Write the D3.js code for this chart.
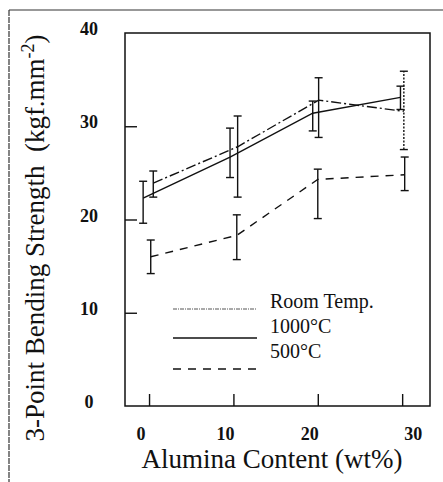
<!DOCTYPE html>
<html><head><meta charset="utf-8">
<script src="https://cdn.jsdelivr.net/npm/d3@7"></script>
<style>
html,body{margin:0;padding:0;background:#fff;}
svg{display:block;}
text{font-family:"Liberation Serif","Times New Roman",serif;fill:#111;}
</style></head>
<body>
<svg id="chart" width="443" height="482"></svg>
<script>
// ---- data ----
const xTicks = [0, 10, 20, 30];
const yTicks = [0, 10, 20, 30, 40];
const seriesNames = ["Room Temp.", "1000°C", "500°C"];

const roomX    = [0.5, 10.5, 20.1, 30.2];
const roomY    = [23.9, 27.8, 32.8, 31.6];
const roomLow  = [22.4, 22.4, 28.8, 27.5];
const roomHigh = [25.2, 31.1, 35.2, 35.9];

const t1000X    = [-0.7, 9.6, 19.4, 29.8];
const t1000Y    = [22.3, 26.7, 31.4, 33.1];
const t1000Low  = [19.6, 24.5, 29.5, 31.8];
const t1000High = [24.1, 29.8, 32.7, 34.3];

const t500X    = [0.2, 10.4, 20.0, 30.3];
const t500Y    = [16.0, 18.3, 24.3, 24.8];
const t500Low  = [14.2, 15.7, 20.1, 23.1];
const t500High = [17.8, 20.5, 25.4, 26.7];

// ---- drawing ----
const svg = d3.select("#chart");
const L = 125, R = 430, T = 33, B = 406;
const x = d3.scaleLinear().domain([-2.85, 33.3]).range([L, R]);
const y = d3.scaleLinear().domain([0, 40]).range([B, T]);

const dashes = ["10,3,2,3", null, "8,7"];
const series = [
  {name: seriesNames[0], xs: roomX, ys: roomY, lo: roomLow, hi: roomHigh, dash: dashes[0]},
  {name: seriesNames[1], xs: t1000X, ys: t1000Y, lo: t1000Low, hi: t1000High, dash: dashes[1]},
  {name: seriesNames[2], xs: t500X, ys: t500Y, lo: t500Low, hi: t500High, dash: dashes[2]}
];

// outer frame (top & left edges only visible)
svg.append("line").attr("x1", 9).attr("y1", 10).attr("x2", 443).attr("y2", 10)
  .attr("stroke", "#333").attr("stroke-width", 1.2);
svg.append("line").attr("x1", 9).attr("y1", 10).attr("x2", 9).attr("y2", 482)
  .attr("stroke", "#333").attr("stroke-width", 1.2).attr("stroke-dasharray", "6,1");

// axes (inward ticks)
const gx = svg.append("g").attr("transform", `translate(0,${B})`)
  .call(d3.axisBottom(x).tickValues(xTicks).tickSize(-12).tickFormat(""));
const gy = svg.append("g").attr("transform", `translate(${L},0)`)
  .call(d3.axisLeft(y).tickValues(yTicks.slice(1, 4)).tickSize(-12).tickFormat(""));
[gx, gy].forEach(g => {
  g.select(".domain").remove();
  g.selectAll(".tick line").attr("stroke", "#111").attr("stroke-width", 1.4);
});

// plot frame
svg.append("rect").attr("x", L).attr("y", T).attr("width", R - L).attr("height", B - T)
  .attr("fill", "none").attr("stroke", "#111").attr("stroke-width", 1.5);

// tick labels
svg.append("g").selectAll("text").data(xTicks).join("text")
  .attr("x", d => x(d) + (d === 30 ? 11 : -8))
  .attr("y", 440)
  .attr("text-anchor", "middle")
  .attr("font-size", 18).attr("font-weight", "bold")
  .text(d => d);
svg.append("g").selectAll("text").data(yTicks).join("text")
  .attr("x", 89)
  .attr("y", d => y(d) + 2)
  .attr("text-anchor", "middle")
  .attr("font-size", 18).attr("font-weight", "bold")
  .text(d => d);

// axis titles
svg.append("text").attr("x", 272).attr("y", 468).attr("text-anchor", "middle")
  .attr("font-size", 27).text("Alumina Content (wt%)");
const yt = svg.append("text").attr("transform", "translate(44,238) rotate(-90)")
  .attr("text-anchor", "middle").attr("font-size", 27).attr("xml:space", "preserve");
yt.append("tspan").text("3-Point Bending Strength\u00a0\u00a0(kgf.mm");
yt.append("tspan").attr("font-size", 18).attr("dy", -10).text("-2");
yt.append("tspan").attr("dy", 10).text(")");

// lines
const line = d3.line().x(d => x(d[0])).y(d => y(d[1]));
series.forEach(s => {
  const pts = s.xs.map((v, i) => [v, s.ys[i]]);
  svg.append("path").datum(pts).attr("d", line)
    .attr("fill", "none").attr("stroke", "#111").attr("stroke-width", 1.4)
    .attr("stroke-dasharray", s.dash);
});

// error bars
series.forEach((s, si) => {
  const g = svg.append("g").attr("stroke", "#111").attr("stroke-width", 1.4);
  s.xs.forEach((v, i) => {
    const cx = x(v);
    const dotted = (si === 0 && i === 3);
    g.append("line").attr("x1", cx).attr("x2", cx).attr("y1", y(s.lo[i])).attr("y2", y(s.hi[i]))
      .attr("stroke-dasharray", dotted ? "2,1.5" : null);
    [s.lo[i], s.hi[i]].forEach(e => {
      g.append("line").attr("x1", cx - 4).attr("x2", cx + 4).attr("y1", y(e)).attr("y2", y(e));
    });
  });
});

// legend
const legX1 = 173, legX2 = 257, legText = 270;
const legLineY = [309, 338, 369];
const legTextY = [308, 333, 358];
series.forEach((s, i) => {
  svg.append("line").attr("x1", legX1).attr("x2", legX2)
    .attr("y1", legLineY[i]).attr("y2", legLineY[i])
    .attr("stroke", i === 0 ? "#555" : "#111").attr("stroke-width", i === 0 ? 1 : 1.4)
    .attr("stroke-dasharray", i === 0 ? "4,1,1,1" : s.dash);
  svg.append("text").attr("x", legText).attr("y", legTextY[i])
    .attr("font-size", 20).text(s.name);
});
</script>
</body></html>
